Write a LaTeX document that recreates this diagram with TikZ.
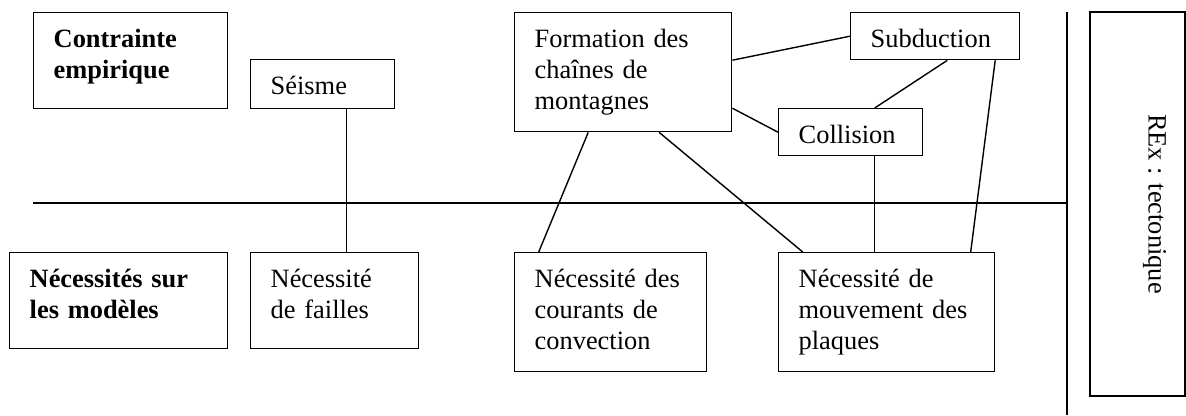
\documentclass[tikz,border=0pt]{standalone}
\usepackage{fontspec}
\setmainfont{Liberation Serif}
\usepackage{pgf,tikz}
\usetikzlibrary{positioning}
\usetikzlibrary{calc}

\begin{document}
\begin{tikzpicture}[x=1pt,y=-1pt,
  boite/.style 2 args={draw,line width=1.4pt,anchor=north west,inner xsep=20pt,inner ysep=0pt,
    text height=35pt,text width=#1,text depth=#2,align=left,
    font=\fontsize{26.4}{31}\selectfont},
  trait/.style={line width=1.4pt}]

\useasboundingbox (0,0) rectangle (1186,415);

% contraintes empiriques
\node[boite={154pt}{61pt},font=\fontsize{26.4}{31}\selectfont\bfseries] (contrainte) at (33,12) {Contrainte\\empirique};
\node[boite={104pt}{14pt}] (seisme) at (250,59) {Séisme};
\node[boite={177pt}{84pt}] (formation) at (514,12) {Formation des\\chaînes de\\montagnes};
\node[boite={129pt}{12pt}] (subduction) at (850,12) {Subduction};
\node[boite={104pt}{12pt}] (collision) at (778,108) {Collision};

% necessites sur les modeles
\node[boite={178pt}{61pt},font=\fontsize{26.4}{31}\selectfont\bfseries] (necessites) at (9,252) {Nécessités sur\\les modèles};
\node[boite={128pt}{61pt}] (failles) at (250,252) {Nécessité\\de failles};
\node[boite={152pt}{84pt}] (convection) at (514,252) {Nécessité des\\courants de\\convection};
\node[boite={176pt}{84pt}] (plaques) at (778,252) {Nécessité de\\mouvement des\\plaques};

% REx
\node[draw,line width=1.4pt,rotate=-90,inner sep=0pt,minimum width=384pt,
  text height=36.4pt,text depth=58.6pt,font=\fontsize{26.4}{31}\selectfont] (rex) at (1137.5,204) {REx : tectonique};

% separations
\coordinate (hg) at (33,203);
\coordinate (hd) at (1067,203);
\coordinate (vh) at (1067,12);
\coordinate (vb) at (1067,415);
\draw[trait] (hg) -- (hd);
\draw[trait] (vh) -- (vb);

% liens
\draw[trait] ([xshift=24pt]seisme.south) coordinate (s1) -- (s1 |- failles.north);
\draw[trait] ([xshift=-35pt]formation.south) -- ([xshift=-72pt]convection.north);
\draw[trait] ([xshift=36pt]formation.south) -- ([xshift=-84pt]plaques.north);
\draw[trait] ([yshift=12pt]formation.east) -- (subduction.west);
\draw[trait] ([yshift=-36pt]formation.east) -- (collision.west);
\draw[trait] ([xshift=12pt]subduction.south) -- ([xshift=24pt]collision.north);
\draw[trait] ([xshift=24pt]collision.south) coordinate (c1) -- (c1 |- plaques.north);
\draw[trait] ([xshift=60pt]subduction.south) -- ([xshift=84pt]plaques.north);

\end{tikzpicture}
\end{document}
